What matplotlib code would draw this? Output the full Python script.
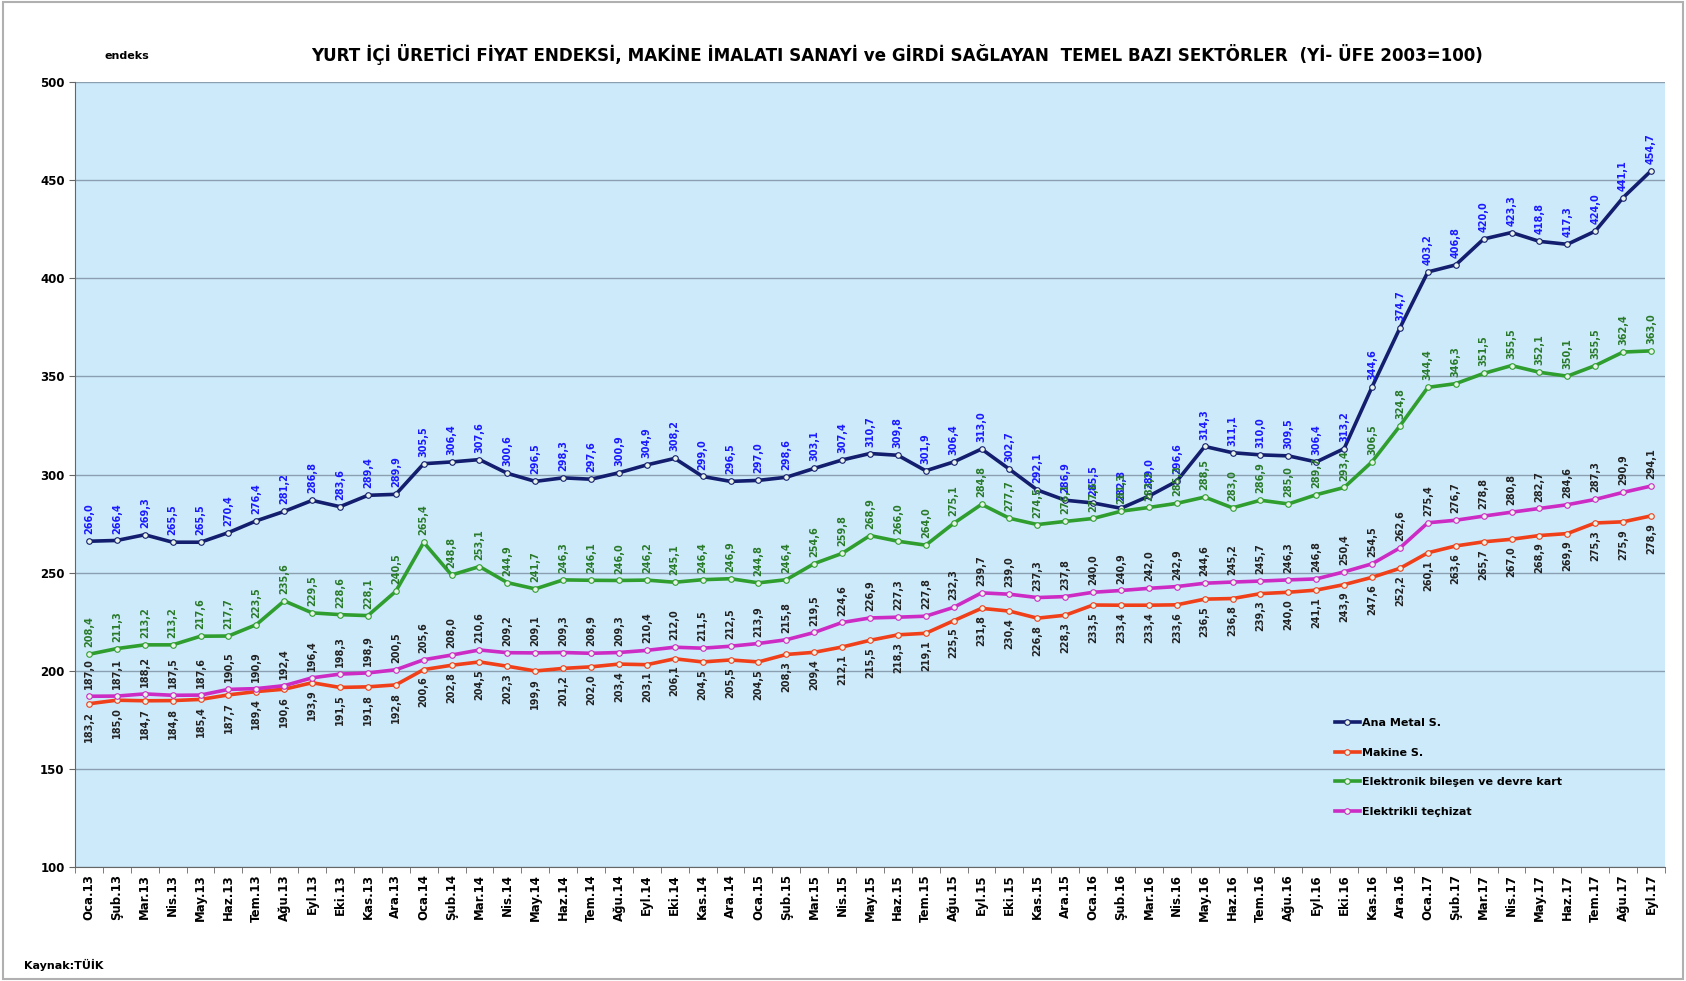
import numpy as np
import matplotlib
matplotlib.use("Agg")
import matplotlib.pyplot as plt
from matplotlib.patches import Rectangle

plt.rcParams['font.family'] = ['DejaVu Sans']

# --- data ------------------------------------------------------------------
months = ["Oca", "Şub", "Mar", "Nis", "May", "Haz", "Tem", "Ağu", "Eyl", "Eki", "Kas", "Ara"]
labels = [f"{m}.{y}" for y in ["13", "14", "15", "16"] for m in months] + \
         [f"{m}.17" for m in months[:9]]

ana_metal = [266.0, 266.4, 269.3, 265.5, 265.5, 270.4, 276.4, 281.2, 286.8, 283.6, 289.4, 289.9,
             305.5, 306.4, 307.6, 300.6, 296.5, 298.3, 297.6, 300.9, 304.9, 308.2, 299.0, 296.5,
             297.0, 298.6, 303.1, 307.4, 310.7, 309.8, 301.9, 306.4, 313.0, 302.7, 292.1, 286.9,
             285.5, 282.8, 289.0, 296.6, 314.3, 311.1, 310.0, 309.5, 306.4, 313.2, 344.6, 374.7,
             403.2, 406.8, 420.0, 423.3, 418.8, 417.3, 424.0, 441.1, 454.7]

makine = [183.2, 185.0, 184.7, 184.8, 185.4, 187.7, 189.4, 190.6, 193.9, 191.5, 191.8, 192.8,
          200.6, 202.8, 204.5, 202.3, 199.9, 201.2, 202.0, 203.4, 203.1, 206.1, 204.5, 205.5,
          204.5, 208.3, 209.4, 212.1, 215.5, 218.3, 219.1, 225.5, 231.8, 230.4, 226.8, 228.3,
          233.5, 233.4, 233.4, 233.6, 236.5, 236.8, 239.3, 240.0, 241.1, 243.9, 247.6, 252.2,
          260.1, 263.6, 265.7, 267.0, 268.9, 269.9, 275.3, 275.9, 278.9]

elektronik = [208.4, 211.3, 213.2, 213.2, 217.6, 217.7, 223.5, 235.6, 229.5, 228.6, 228.1, 240.5,
              265.4, 248.8, 253.1, 244.9, 241.7, 246.3, 246.1, 246.0, 246.2, 245.1, 246.4, 246.9,
              244.8, 246.4, 254.6, 259.8, 268.9, 266.0, 264.0, 275.1, 284.8, 277.7, 274.5, 276.1,
              277.6, 281.3, 283.2, 285.3, 288.5, 283.0, 286.9, 285.0, 289.7, 293.4, 306.5, 324.8,
              344.4, 346.3, 351.5, 355.5, 352.1, 350.1, 355.5, 362.4, 363.0]

elektrikli = [187.0, 187.1, 188.2, 187.5, 187.6, 190.5, 190.9, 192.4, 196.4, 198.3, 198.9, 200.5,
              205.6, 208.0, 210.6, 209.2, 209.1, 209.3, 208.9, 209.3, 210.4, 212.0, 211.5, 212.5,
              213.9, 215.8, 219.5, 224.6, 226.9, 227.3, 227.8, 232.3, 239.7, 239.0, 237.3, 237.8,
              240.0, 240.9, 242.0, 242.9, 244.6, 245.2, 245.7, 246.3, 246.8, 250.4, 254.5, 262.6,
              275.4, 276.7, 278.8, 280.8, 282.7, 284.6, 287.3, 290.9, 294.1]

# name, values, line colour, label colour, label above?
series = [
    ("Ana Metal S.", ana_metal, "#141e6e", "#1a1aff", True),
    ("Makine S.", makine, "#f0401a", "#222222", False),
    ("Elektronik bileşen ve devre kart", elektronik, "#2f9e2f", "#2a7a2a", True),
    ("Elektrikli teçhizat", elektrikli, "#cc2bc4", "#222222", True),
]

# --- plot ------------------------------------------------------------------
fig = plt.figure(figsize=(16.86, 9.81), dpi=100)
ax = fig.add_axes([0.0445, 0.1162, 0.943, 0.8002])
ax.set_facecolor("#cdeafb")

x = np.arange(len(labels))
for name, vals, col, lcol, above in series:
    ax.plot(x, vals, color=col, lw=2.6, marker="o", ms=4,
            mfc="#e8f4e8", mec=col, mew=0.8, label=name, zorder=3)
    for xi, v in zip(x, vals):
        txt = f"{v:.1f}".replace(".", ",")
        ax.annotate(txt, (xi, v), xytext=(0, 5 if above else -5),
                    textcoords="offset points", rotation=90,
                    ha="center", va="bottom" if above else "top",
                    fontsize=7, fontweight="bold", color=lcol, zorder=4)

ax.set_ylim(100, 500)
ax.set_yticks(np.arange(100, 501, 50))
ax.set_xlim(-0.5, len(labels) - 0.5)
ax.set_xticks(x)
ax.set_xticklabels(labels, rotation=90, fontsize=8.5, fontweight="bold")
ax.set_xticks(np.arange(-0.5, len(labels), 1), minor=True)
ax.tick_params(axis="x", which="major", length=0, pad=5)
ax.tick_params(axis="x", which="minor", length=4, color="#666666")
ax.tick_params(axis="y", labelsize=8.5, length=4, color="#666666")
for t in ax.get_yticklabels():
    t.set_fontweight("bold")
ax.grid(axis="y", color="#8aa0b0", lw=1.0)
ax.set_axisbelow(True)
for s in ["top", "right"]:
    ax.spines[s].set_visible(False)
for s in ["left", "bottom"]:
    ax.spines[s].set_color("#666666")

leg = ax.legend(loc="upper left", bbox_to_anchor=(0.786, 0.278), bbox_transform=fig.transFigure,
                frameon=False, prop={"size": 8, "weight": "bold"}, handlelength=2.2,
                labelspacing=1.75, handletextpad=0.2)

fig.text(0.532, 0.944, "YURT İÇİ ÜRETİCİ FİYAT ENDEKSİ, MAKİNE İMALATI SANAYİ ve GİRDİ SAĞLAYAN  TEMEL BAZI SEKTÖRLER  (Yİ- ÜFE 2003=100)",
         ha="center", va="center", fontsize=12.1, fontweight="bold")
fig.text(0.062, 0.943, "endeks", ha="left", va="center", fontsize=8, fontweight="bold")
fig.text(0.014, 0.016, "Kaynak:TÜİK", ha="left", va="center", fontsize=8, fontweight="bold")

fig.patches.append(Rectangle((0.002, 0.002), 0.996, 0.996, transform=fig.transFigure,
                             fill=False, ec="#b0b0b0", lw=1.5))

fig.savefig("out.png", dpi=100)
